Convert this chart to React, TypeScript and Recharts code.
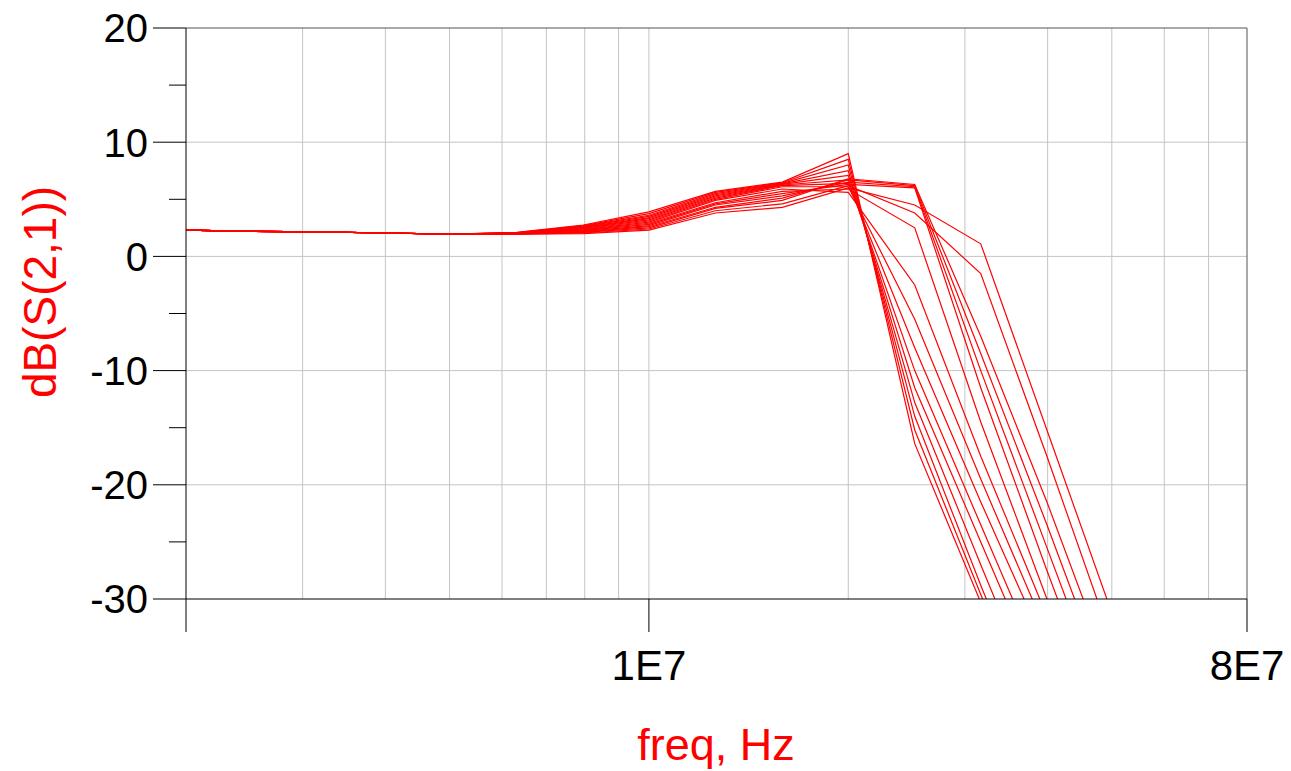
import { Line, LineChart, ReferenceLine, XAxis, YAxis } from "recharts";

// 10 points per decade sweep, 2 MHz .. 80 MHz
const freqs = [
  2.0e6, 2.52e6, 3.17e6, 3.99e6, 5.02e6, 6.32e6, 7.96e6, 1.0e7, 1.26e7, 1.59e7,
  2.0e7, 2.52e7, 3.17e7, 3.99e7, 5.02e7, 6.32e7, 7.96e7,
];

// dB(S(2,1)) for each sweep step (values below -30 are clipped by the plot)
const s01 = [2.3, 2.2, 2.15, 2.05, 1.95, 2.1, 2.75, 3.9, 5.7, 6.5, 9.0, -16.4, -30.3, -45, -60, -75, -90];
const s02 = [2.3, 2.2, 2.15, 2.05, 1.95, 2.08, 2.7, 3.75, 5.6, 6.45, 8.5, -15.2, -29.6, -44, -59, -74, -89];
const s03 = [2.3, 2.2, 2.15, 2.05, 1.95, 2.07, 2.65, 3.6, 5.5, 6.4, 8.0, -14.0, -28.8, -43, -58, -73, -88];
const s04 = [2.3, 2.2, 2.15, 2.05, 1.95, 2.06, 2.6, 3.5, 5.4, 6.35, 7.5, -12.8, -27.0, -41, -56, -71, -86];
const s05 = [2.3, 2.2, 2.15, 2.05, 1.95, 2.05, 2.55, 3.4, 5.3, 6.3, 7.1, -11.5, -25.0, -38.5, -53, -68, -83];
const s06 = [2.3, 2.2, 2.15, 2.05, 1.95, 2.04, 2.5, 3.3, 5.2, 6.25, 6.7, -10.0, -23.5, -37, -51, -66, -81];
const s07 = [2.3, 2.2, 2.15, 2.05, 1.95, 2.03, 2.45, 3.2, 5.1, 6.2, 6.4, -8.0, -21.5, -34.5, -49, -64, -79];
const s08 = [2.3, 2.2, 2.15, 2.05, 1.95, 2.02, 2.4, 3.1, 5.0, 6.1, 6.1, -5.5, -19.5, -33, -47, -62, -77];
const s09 = [2.3, 2.2, 2.15, 2.05, 1.95, 2.01, 2.35, 3.0, 4.9, 5.9, 5.6, -2.5, -17.5, -31.5, -46, -61, -76];
const s10 = [2.3, 2.2, 2.15, 2.05, 1.95, 2.0, 2.3, 2.9, 4.7, 5.7, 5.9, 2.5, -14.5, -30, -45, -60, -75];
const s11 = [2.3, 2.2, 2.15, 2.05, 1.95, 1.99, 2.25, 2.8, 4.6, 5.5, 6.3, 6.0, -11.5, -27.5, -43, -58, -73];
const s12 = [2.3, 2.2, 2.15, 2.05, 1.95, 1.98, 2.2, 2.7, 4.5, 5.3, 6.5, 6.1, -10.0, -25.5, -41, -56, -71];
const s13 = [2.3, 2.2, 2.15, 2.05, 1.95, 1.97, 2.15, 2.6, 4.3, 5.1, 6.7, 6.2, -8.5, -23.5, -39, -54, -69];
const s14 = [2.3, 2.2, 2.15, 2.05, 1.95, 1.96, 2.1, 2.5, 4.2, 4.9, 6.8, 6.3, -7.0, -21.5, -37, -52, -67];
const s15 = [2.3, 2.2, 2.15, 2.05, 1.95, 1.95, 2.05, 2.4, 4.0, 4.6, 6.2, 3.8, -1.5, -17.5, -34, -50, -65];
const s16 = [2.3, 2.2, 2.15, 2.05, 1.95, 1.95, 2.0, 2.3, 3.8, 4.3, 6.0, 4.5, 1.1, -15.2, -31.5, -47, -62];

const series = [s01, s02, s03, s04, s05, s06, s07, s08, s09, s10, s11, s12, s13, s14, s15, s16];

const xTicks = [2e6, 1e7, 8e7];
const xTickLabels = ["", "1E7", "8E7"];
const yTicks = [-30, -25, -20, -15, -10, -5, 0, 5, 10, 15, 20];
const xGrid = [3e6, 4e6, 5e6, 6e6, 7e6, 8e6, 9e6, 1e7, 2e7, 3e7, 4e7, 5e7, 6e7, 7e7];
const yGrid = [-20, -10, 0, 10];

const data = freqs.map((f, k) => {
  const row: Record<string, number> = { f };
  series.forEach((s, j) => {
    row[`s${j}`] = s[k];
  });
  return row;
});

const FONT = "'Liberation Sans', Arial, sans-serif";
const RED = "#ff0000";
const GRID = "#c4c4c4";

// eslint-disable-next-line @typescript-eslint/no-explicit-any
function XTick({ x, y, payload }: any) {
  const i = xTicks.indexOf(payload.value);
  return (
    <g>
      <line x1={x} x2={x} y1={y} y2={y + 33} stroke="#000" strokeWidth={1} />
      <text x={x} y={y + 81} textAnchor="middle" fontSize={42} fontFamily={FONT} fill="#000">
        {xTickLabels[i]}
      </text>
    </g>
  );
}

// eslint-disable-next-line @typescript-eslint/no-explicit-any
function YTick({ x, y, payload }: any) {
  const v = payload.value as number;
  const major = v % 10 === 0;
  return (
    <g>
      <line x1={x - (major ? 33 : 17)} x2={x} y1={y} y2={y} stroke="#000" strokeWidth={1} />
      {major && (
        <text x={x - 38} y={y} dy="0.36em" textAnchor="end" fontSize={40} fontFamily={FONT} fill="#000">
          {v}
        </text>
      )}
    </g>
  );
}

export default function App() {
  return (
    <div style={{ position: "absolute", left: 0, top: 0, background: "#fff" }}>
      <LineChart
        width={1291}
        height={771}
        data={data}
        margin={{ top: 28, right: 44, left: 0, bottom: 0 }}
      >
        <XAxis
          dataKey="f"
          type="number"
          scale="log"
          domain={[2e6, 8e7]}
          allowDataOverflow
          ticks={xTicks}
          interval={0}
          tick={<XTick />}
          tickLine={false}
          tickSize={0}
          tickMargin={0}
          axisLine={{ stroke: "#000" }}
          height={172}
        />
        <YAxis
          type="number"
          domain={[-30, 20]}
          allowDataOverflow
          ticks={yTicks}
          interval={0}
          tick={<YTick />}
          tickLine={false}
          tickSize={0}
          tickMargin={0}
          axisLine={{ stroke: "#000" }}
          width={186}
        />
        {xGrid.map((g) => (
          <ReferenceLine key={`vx${g}`} x={g} stroke={GRID} strokeWidth={1} />
        ))}
        {yGrid.map((g) => (
          <ReferenceLine key={`hy${g}`} y={g} stroke={GRID} strokeWidth={1} />
        ))}
        <ReferenceLine y={20} stroke="#555" strokeWidth={1} />
        <ReferenceLine x={8e7} stroke="#555" strokeWidth={1} />
        {series.map((_, j) => (
          <Line
            key={j}
            type="linear"
            dataKey={`s${j}`}
            stroke={RED}
            strokeWidth={1.2}
            dot={false}
            activeDot={false}
            isAnimationActive={false}
          />
        ))}
        <text
          x={40}
          y={292}
          transform="rotate(-90 40 292)"
          textAnchor="middle"
          dominantBaseline="central"
          fontSize={46}
          fontFamily={FONT}
          fill={RED}
        >
          dB(S(2,1))
        </text>
        <text x={716} y={760} textAnchor="middle" fontSize={45} fontFamily={FONT} fill={RED}>
          freq, Hz
        </text>
      </LineChart>
    </div>
  );
}
